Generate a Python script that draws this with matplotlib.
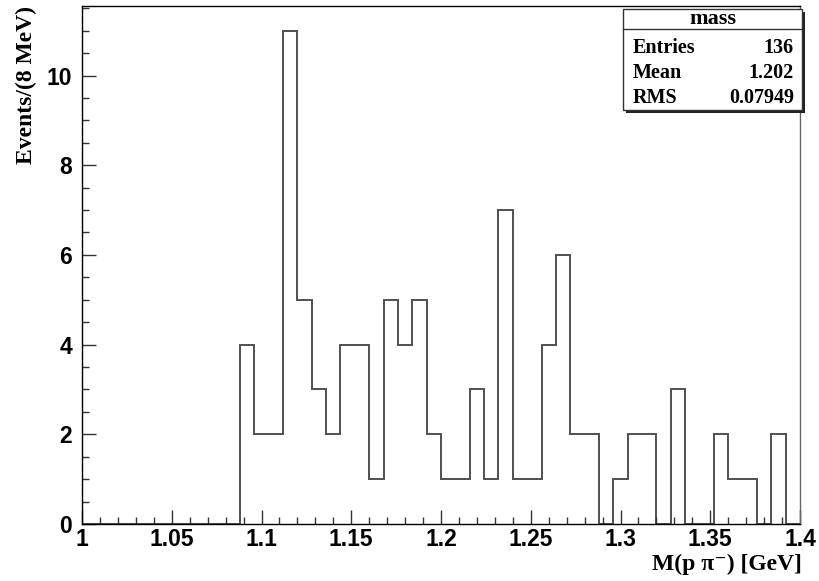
import numpy as np
import matplotlib
matplotlib.use('Agg')
import matplotlib.pyplot as plt
from matplotlib.patches import Rectangle
from matplotlib.ticker import MultipleLocator

# p pi- invariant mass, 8 MeV bins from 1.0 to 1.4 GeV
x_lo, x_hi = 1.0, 1.4
bin_width = 0.008
counts = [0, 0, 0, 0, 0, 0, 0, 0, 0, 0,
          0, 4, 2, 2, 11, 5, 3, 2, 4, 4,
          1, 5, 4, 5, 2, 1, 1, 3, 1, 7,
          1, 1, 4, 6, 2, 2, 0, 1, 2, 2,
          0, 3, 0, 0, 2, 1, 1, 0, 2, 0]
stat_names = ['Entries', 'Mean', 'RMS']
stat_values = ['136', '1.202', '0.07949']
hist_name = 'mass'

edges = x_lo + bin_width * np.arange(len(counts) + 1)

W, H = 820, 581
fig = plt.figure(figsize=(W / 100, H / 100), dpi=100)
ax = fig.add_axes([82 / W, 1 - 524 / H, 718 / W, 518 / H])

ax.stairs(counts, edges, color='#505050', lw=1.4)

ax.set_xlim(x_lo, x_hi)
ax.set_ylim(0, 1.05 * max(counts))

ax.xaxis.set_major_locator(MultipleLocator(0.05))
ax.xaxis.set_minor_locator(MultipleLocator(0.01))
ax.yaxis.set_major_locator(MultipleLocator(2))
ax.yaxis.set_minor_locator(MultipleLocator(0.5))
ax.tick_params(which='both', direction='in', top=False, right=False,
               width=1.0, color='#333333')
ax.tick_params(which='major', length=10)
ax.tick_params(which='minor', length=5)
ax.tick_params(axis='x', pad=3)
ax.tick_params(axis='y', pad=7)
ax.set_xticklabels([f'{v:g}' for v in ax.get_xticks()])

for lab in ax.get_xticklabels() + ax.get_yticklabels():
    lab.set_fontfamily('Liberation Sans')
    lab.set_fontweight('bold')
    lab.set_fontsize(16.5)

for sp in ax.spines.values():
    sp.set_linewidth(1.0)
ax.spines['right'].set_color('#666666')

serif = ['Liberation Serif', 'DejaVu Serif']
fig.text(802 / W, 1 - 564 / H, 'M(p π\u207b) [GeV]', ha='right', va='center',
         family=serif, fontweight='bold', fontsize=17)
fig.text(26 / W, 1 - 6 / H, 'Events/(8 MeV)', ha='center', va='top', rotation=90,
         family=serif, fontweight='bold', fontsize=17)

# stats box in the upper right corner
bx0, bx1 = 623 / W, 802 / W
by0, by1 = 1 - 110 / H, 1 - 9 / H
ydiv = 1 - 29 / H
sx, sy = 3 / W, 3 / H
fig.patches.append(Rectangle((bx0 + sx, by0 - sy), bx1 - bx0, by1 - by0,
                             transform=fig.transFigure, facecolor='#222222',
                             edgecolor='none', zorder=5))
fig.patches.append(Rectangle((bx0, by0), bx1 - bx0, by1 - by0,
                             transform=fig.transFigure, facecolor='white',
                             edgecolor='#333333', lw=1.0, zorder=6))
fig.add_artist(plt.Line2D([bx0, bx1], [ydiv, ydiv], transform=fig.transFigure,
                          color='#333333', lw=1.0, zorder=7))
fig.text((bx0 + bx1) / 2, 1 - 19 / H, hist_name, ha='center', va='center',
         family=serif, fontweight='bold', fontsize=16, zorder=8)
for i, (nm, val) in enumerate(zip(stat_names, stat_values)):
    yy = 1 - (48 + 25 * i) / H
    fig.text(633 / W, yy, nm, ha='left', va='center',
             family=serif, fontweight='bold', fontsize=14.5, zorder=8)
    fig.text(794 / W, yy, val, ha='right', va='center',
             family=serif, fontweight='bold', fontsize=14.5, zorder=8)

fig.savefig('out.png', dpi=100)
